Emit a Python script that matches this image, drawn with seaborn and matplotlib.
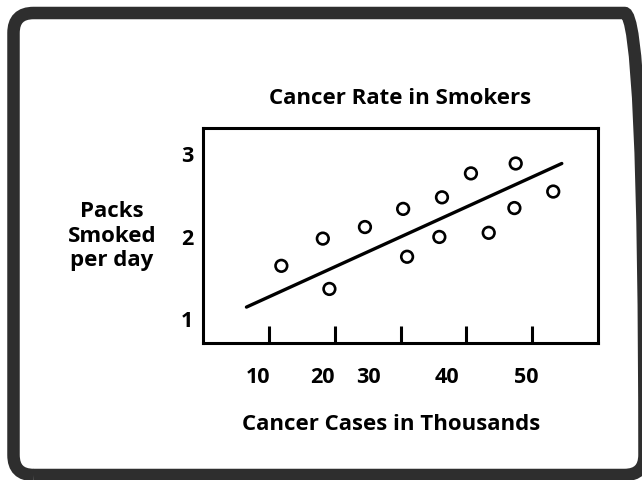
import numpy as np
import pandas as pd
import seaborn as sns
import matplotlib.pyplot as plt
from matplotlib.patches import FancyBboxPatch

# scatter points
cases = [11.9, 18.2, 19.2, 24.6, 30.4, 31.0, 35.9, 36.3, 40.7, 43.4, 47.3, 47.5, 53.2]
packs = [1.65, 1.98, 1.37, 2.12, 2.34, 1.76, 2.00, 2.48, 2.77, 2.05, 2.35, 2.89, 2.55]

# hand-drawn trend line endpoints
trend_x = [6.6, 54.5]
trend_y = [1.15, 2.89]

# tick marks and the (offset) tick labels as printed
tick_marks = [10, 20, 30, 40, 50]
tick_label_pos = [8.3, 18.1, 25.1, 37.0, 49.1]
tick_labels = ["10", "20", "30", "40", "50"]
y_ticks = [1, 2, 3]

sns.set_theme(style="white")
plt.rcParams['font.family'] = ['Open Sans', 'DejaVu Sans']
plt.rcParams['font.weight'] = 'bold'
plt.rcParams['text.color'] = 'black'
plt.rcParams['xtick.color'] = 'black'
plt.rcParams['ytick.color'] = 'black'

fig = plt.figure(figsize=(6.42, 4.80), dpi=100)
ax = fig.add_axes([203 / 642, 137 / 480, 395 / 642, 215 / 480])

df = pd.DataFrame({'cases': cases, 'packs': packs})
sns.lineplot(x=trend_x, y=trend_y, color='black', linewidth=2.4, ax=ax)
sns.scatterplot(data=df, x='cases', y='packs', s=70, facecolor='none',
                edgecolor='black', linewidth=1.9, ax=ax, zorder=3)

ax.set_xlim(0, 60)
ax.set_ylim(0.715, 3.32)

ax.set_xticks(tick_marks, [''] * len(tick_marks))
ax.set_xticks(tick_label_pos, tick_labels, minor=True)
ax.tick_params(axis='x', which='major', direction='in', length=12, width=2.2,
               color='black', bottom=True)
ax.tick_params(axis='x', which='minor', length=0, pad=17, labelsize=15.5,
               labelcolor='black')
ax.set_yticks(y_ticks, [str(v) for v in y_ticks])
ax.tick_params(axis='y', length=0, pad=7, labelsize=15.5, labelcolor='black')
for lab in ax.get_xticklabels(minor=True) + ax.get_yticklabels():
    lab.set_fontweight('bold')

for sp in ax.spines.values():
    sp.set_color('black')
    sp.set_linewidth(2.2)

ax.set_xlabel('')
ax.set_ylabel('')
ax.set_title('Cancer Rate in Smokers', fontsize=16, fontweight='bold', pad=17,
             color='black')

fig.text(391.5 / 642, 1 - 424 / 480, 'Cancer Cases in Thousands', ha='center',
         va='center', fontsize=16, fontweight='bold', color='black')
fig.text(112 / 642, 1 - 236 / 480, 'Packs\nSmoked\nper day', ha='center',
         va='center', fontsize=16, fontweight='bold', linespacing=1.2,
         color='black')

# rounded frame around the whole picture, laid out in inches
frame = FancyBboxPatch((0.135, 0.05), 6.31, 4.62,
                       boxstyle='round,pad=0,rounding_size=0.2',
                       transform=fig.dpi_scale_trans, fill=False,
                       edgecolor='#2e2e2e', linewidth=9, clip_on=False)
fig.patches.append(frame)

fig.savefig('out.png', dpi=100)
